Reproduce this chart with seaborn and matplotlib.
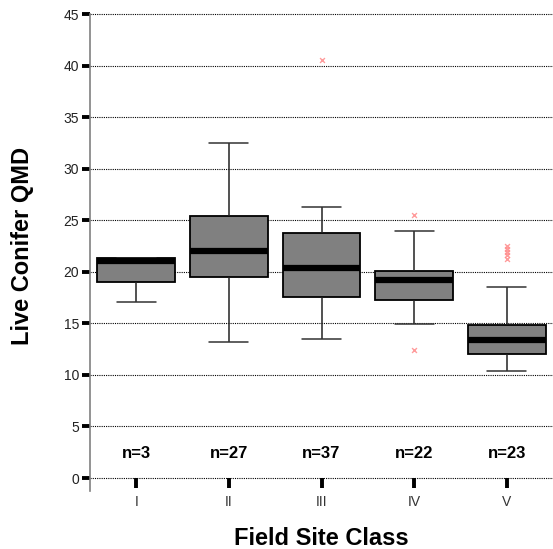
import matplotlib
matplotlib.use("Agg")
import matplotlib.pyplot as plt
import seaborn as sns
import pandas as pd

# ---- data ----
classes = ["I", "II", "III", "IV", "V"]
whisker_low = [17.1, 13.2, 13.5, 14.9, 10.4]
q1 = [19.0, 19.5, 17.6, 17.3, 12.0]
median = [21.0, 22.0, 20.4, 19.2, 13.4]
q3 = [21.3, 25.4, 23.8, 20.1, 14.8]
whisker_high = [21.3, 32.5, 26.3, 24.0, 18.5]
counts = [3, 27, 37, 22, 23]
outlier_class = ["III", "IV", "IV", "V", "V", "V", "V", "V"]
outlier_value = [40.5, 25.5, 12.4, 21.2, 21.6, 21.9, 22.2, 22.5]
y_ticks = [0, 5, 10, 15, 20, 25, 30, 35, 40, 45]

# long table of five-number summaries (one row per summary value)
rows = []
for c, a, b, m, d, e in zip(classes, whisker_low, q1, median, q3, whisker_high):
    for v in (a, b, m, d, e):
        rows.append({"cls": c, "val": v})
box_df = pd.DataFrame(rows)
out_df = pd.DataFrame({"cls": outlier_class, "val": outlier_value})
n_df = pd.DataFrame({"cls": classes, "n": counts})

sns.set_theme(style="white")
plt.rcParams["font.family"] = ["Liberation Sans", "DejaVu Sans"]

fig = plt.figure(figsize=(5.53, 5.49), dpi=100)
ax = fig.add_axes([90 / 553, (549 - 478) / 549, 463 / 553, 464 / 549])

sns.boxplot(data=box_df, x="cls", y="val", order=classes, ax=ax,
            whis=(0, 100), width=0.84, color="#808080", saturation=1,
            linecolor="black", linewidth=1.3, showfliers=False,
            medianprops={"linewidth": 4.5, "color": "black"},
            whiskerprops={"linewidth": 1.1, "color": "#222222"},
            capprops={"linewidth": 1.1, "color": "#333333"},
            boxprops={"edgecolor": "black", "facecolor": "#808080"})

sns.stripplot(data=out_df, x="cls", y="val", order=classes, ax=ax,
              jitter=False, marker="x", color="#ff8a8a", size=3.5,
              linewidth=1.0, alpha=0.85)

for i, row in n_df.iterrows():
    ax.text(i, 2.4, f"n={row['n']}", ha="center", va="center",
            fontsize=12, fontweight="bold", color="black")

ax.set_ylim(0, 45)
ax.set_xlim(-0.5, 4.5)
ax.set_yticks(y_ticks)
for yv in y_ticks:
    ax.axhline(yv, color="black", linestyle=(0, (1, 1)), linewidth=0.8,
               zorder=0, clip_on=False)

for s in ["top", "right", "bottom"]:
    ax.spines[s].set_visible(False)
ax.spines["left"].set_color("#808080")
ax.spines["left"].set_linewidth(1.2)
ax.spines["left"].set_bounds(-1.3, 45)

ax.tick_params(axis="y", direction="out", length=6, width=2.8, color="black",
               labelsize=10, labelcolor="#222222", pad=2, left=True)
ax.tick_params(axis="x", direction="out", length=7, width=2.8, color="black",
               labelsize=10, labelcolor="#333333", pad=5, bottom=True)

ax.set_xlabel("Field Site Class", fontsize=17, fontweight="bold",
              labelpad=13, color="black")
ax.set_ylabel("Live Conifer QMD", fontsize=17, fontweight="bold", color="black")
ax.yaxis.set_label_coords(-0.121, 0.5)

fig.savefig("out.png", dpi=100)
